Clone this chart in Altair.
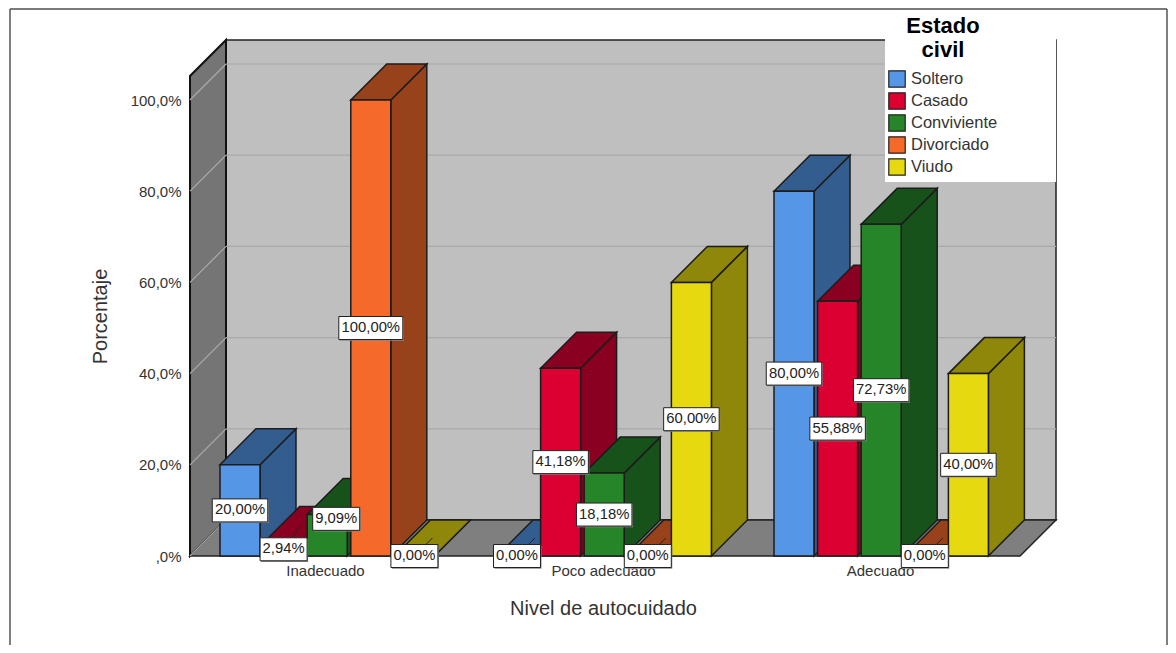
import altair as alt
import pandas as pd

categories = ["Inadecuado", "Poco adecuado", "Adecuado"]
series = ["Soltero", "Casado", "Conviviente", "Divorciado", "Viudo"]
soltero = [20.00, 0.00, 80.00]
casado = [2.94, 41.18, 55.88]
conviviente = [9.09, 18.18, 72.73]
divorciado = [100.00, 0.00, 0.00]
viudo = [0.00, 60.00, 40.00]
y_ticks = [0, 20, 40, 60, 80, 100]
front_colors = ["#5596e6", "#dc0032", "#268529", "#f5692b", "#e6d90f"]
dark_colors = ["#335c8f", "#8a0020", "#17521a", "#98421c", "#8f8709"]

values = [soltero, casado, conviviente, divorciado, viudo]

# geometry (px units on x, percent on y)
PX = 4.56
DEPTH = 36
DY = DEPTH / PX
W = 866
TOP = 516 / PX
BW = 40
GROUP_START = 30
GROUP_STEP = 277
BAR_STEP = 43.6
LINE = "#1c1c1c"
FONT = "Liberation Sans"

cat_centers = [135, 413, 690]
label_expr = "datum.value < 300 ? '%s' : datum.value < 500 ? '%s' : '%s'" % tuple(categories)
y_expr = "datum.value == 0 ? ',0%' : replace(format(datum.value, '.1f'), '.', ',') + '%'"

xs = alt.Scale(domain=[0, W], nice=False, zero=False)
ys = alt.Scale(domain=[0, TOP], nice=False, zero=False)
x_axis = alt.Axis(
    values=cat_centers, labelExpr=label_expr, domain=False, ticks=False, grid=False,
    labelFont=FONT, labelFontSize=15, labelColor="#333333", labelPadding=7,
    labelOverlap=False, labelFlush=False,
    title="Nivel de autocuidado", titleFont=FONT, titleFontSize=20,
    titleFontWeight="normal", titleColor="#333333", titleX=413, titleY=52,
    titleBaseline="middle", titleAnchor="middle", titleAlign="center")
y_axis = alt.Axis(
    values=y_ticks, labelExpr=y_expr, domain=False, ticks=False, grid=False,
    labelFont=FONT, labelFontSize=15, labelColor="#333333", labelPadding=9,
    title="Porcentaje", titleFont=FONT, titleFontSize=20,
    titleFontWeight="normal", titleColor="#333333", titleX=-90, titleY=276,
    titleBaseline="middle", titleAnchor="middle", titleAlign="center")
X = alt.X("x:Q", scale=xs, axis=x_axis)
Y = alt.Y("y:Q", scale=ys, axis=y_axis)
Y2 = alt.Y2("y2:Q")
X2 = alt.X2("x2:Q")


def area(rows, fill, stroke=LINE, sw=1.5):
    df = pd.DataFrame(rows, columns=["x", "y", "y2"])
    return alt.Chart(df).mark_area(
        fill=fill, stroke=stroke, strokeWidth=sw, interpolate="linear", opacity=1
    ).encode(x=X, y=Y, y2=Y2)


def rect(x, x2, y, y2, **kw):
    df = pd.DataFrame([{"x": x, "x2": x2, "y": y, "y2": y2}])
    return alt.Chart(df).mark_rect(**kw).encode(x=X, x2=X2, y=Y, y2=Y2)


def seg(x, y, x1, y1, color, sw=1.0):
    df = pd.DataFrame([{"x": x, "y": y}, {"x": x1, "y": y1}])
    return alt.Chart(df).mark_line(color=color, strokeWidth=sw).encode(x=X, y=Y)


layers = []

# frame
FTOP = (556 - 9) / PX
FBOT = (556 - 653) / PX
FR = 977
layers.append(seg(-180, FTOP, FR, FTOP, "#7a7a7a", 2))
layers.append(rect(-180, -180, FBOT, FTOP, stroke="#555555", strokeWidth=1.5))
layers.append(rect(FR, FR, FBOT, FTOP, stroke="#555555", strokeWidth=1.5))

# walls and floor
layers.append(rect(DEPTH, W, DY, TOP, fill="#bfbfbf", stroke="#222222", strokeWidth=1.5))
layers.append(area([(0, 0, TOP - DY), (DEPTH, DY, TOP)], "#757575", "#111111", 2))
layers.append(area([(0, 0, 0), (DEPTH, 0, DY), (W - DEPTH, 0, DY), (W, DY, DY)], "#7f7f7f", "#222222", 1.5))
for v in y_ticks[1:]:
    layers.append(seg(DEPTH, v + DY, W, v + DY, "#a9a9a9", 1.2))
    layers.append(seg(0, v, DEPTH, v + DY, "#ababab", 1.2))
layers.append(seg(0, 0, DEPTH, DY, "#ababab", 1.2))

# bars
label_nudge = {(0, 2): (9, 3.6)}
label_rows = []
leader = []
color_enc = alt.Color(
    "serie:N",
    scale=alt.Scale(domain=series, range=front_colors),
    legend=alt.Legend(
        orient="none", legendX=698, legendY=-24, title=["Estado", "civil"],
        titleFont=FONT, titleFontSize=22, titleFontWeight="bold", titleColor="#000000",
        titleAlign="center", titleAnchor="middle", titleLineHeight=24, titlePadding=8,
        labelFont=FONT, labelFontSize=16.5, labelColor="#333333", labelOffset=5,
        symbolType="square", symbolSize=270, symbolStrokeColor="#222222",
        symbolStrokeWidth=1.2, rowPadding=0, padding=0, labelLimit=200,
        symbolOpacity=1,
    ),
)

# white legend backing
legend_bg = rect(695, W, (556 - 182) / PX, FTOP - 0.2, fill="white")

for g in range(len(categories)):
    for i, name in enumerate(series):
        v = values[i][g]
        x0 = GROUP_START + GROUP_STEP * g + BAR_STEP * i
        x1 = x0 + BW
        layers.append(area([(x1, 0, v), (x1 + DEPTH, DY, v + DY)], dark_colors[i]))
        layers.append(area(
            [(x0, v, v), (x0 + DEPTH, v, v + DY), (x1, v, v + DY), (x1 + DEPTH, v + DY, v + DY)],
            dark_colors[i]))
        if v > 0:
            df = pd.DataFrame([{"x": x0, "x2": x1, "y": 0, "y2": v, "serie": name}])
            layers.append(alt.Chart(df).mark_rect(stroke=LINE, strokeWidth=1.5, opacity=1).encode(
                x=X, x2=X2, y=Y, y2=Y2, color=color_enc))
        cx = x0 + BW / 2
        if v < 5:
            leader.append(seg(cx, v / 2, cx + DEPTH / 2, v + DY / 2, "#222222", 1))
        text = f"{v:.2f}".replace(".", ",") + "%"
        dx, dy = label_nudge.get((g, i), (0, 0))
        label_rows.append({"x": cx + dx, "y": v / 2 + dy, "t": text})

layers.append(legend_bg)
layers.extend(leader)

for r in label_rows:
    half = (8.5 * len(r["t"]) + 4.5) / 2
    ypx = 11.5 / PX
    layers.append(rect(r["x"] - half + 1, r["x"] + half + 1, r["y"] - ypx - 0.25, r["y"] + ypx - 0.25,
                       fill="#8a8a8a"))
    layers.append(rect(r["x"] - half, r["x"] + half, r["y"] - ypx, r["y"] + ypx,
                       fill="white", stroke="#222222", strokeWidth=1))

labels = alt.Chart(pd.DataFrame(label_rows)).mark_text(
    font=FONT, fontSize=14.8, color="#222222", align="center", baseline="middle"
).encode(x=X, y=Y, text="t:N")
layers.append(labels)

chart = alt.layer(*layers).properties(
    width=W,
    height=516,
    padding={"left": 182, "top": 32, "right": 112, "bottom": 89},
    autosize=alt.AutoSizeParams(type="none"),
    background="white",
).configure_view(stroke=None)

chart.save("out.html", embed_options={"renderer": "svg", "actions": False})
